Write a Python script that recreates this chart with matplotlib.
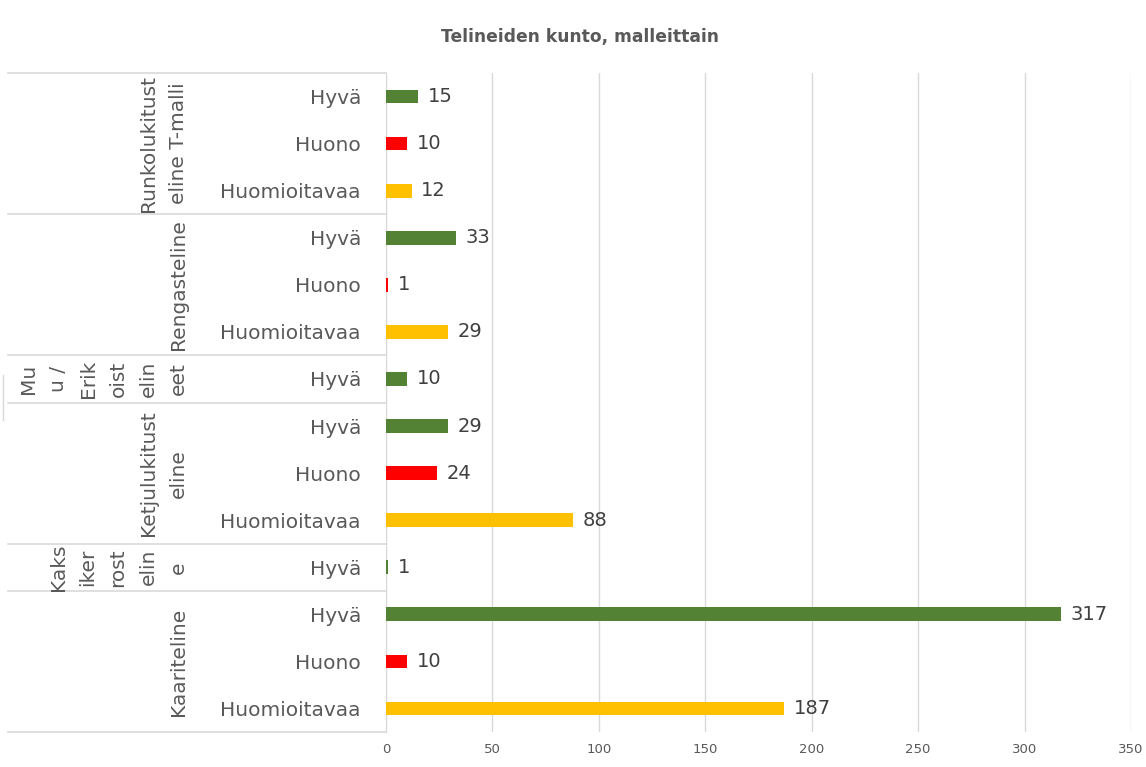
import matplotlib.pyplot as plt
from matplotlib.lines import Line2D
from matplotlib.transforms import blended_transform_factory

# data, top to bottom
groups = ["Runkolukitusteline T-malli", "Rengasteline", "Muu / Erikoistelineet",
          "Ketjulukitusteline", "Kaksikerrosteline", "Kaariteline"]
# how the group names are wrapped in the reference (one entry per column)
group_lines = [["Runkolukitust", "eline T-malli"],
               ["Rengasteline"],
               ["Mu", "u /", "Erik", "oist", "elin", "eet"],
               ["Ketjulukitust", "eline"],
               ["Kaks", "iker", "rost", "elin", "e"],
               ["Kaariteline"]]
conditions = [["Hyvä", "Huono", "Huomioitavaa"],
              ["Hyvä", "Huono", "Huomioitavaa"],
              ["Hyvä"],
              ["Hyvä", "Huono", "Huomioitavaa"],
              ["Hyvä"],
              ["Hyvä", "Huono", "Huomioitavaa"]]
counts = [[15, 10, 12],
          [33, 1, 29],
          [10],
          [29, 24, 88],
          [1],
          [317, 10, 187]]

colors = {"Hyvä": "#548235", "Huono": "#FF0000", "Huomioitavaa": "#FFC000"}
txt = "#595959"
grid = "#D9D9D9"

W, H = 1146, 767
fig = plt.figure(figsize=(W / 100, H / 100), dpi=100)
left, right, top, bottom = 386, 1131, 73, 732
ax = fig.add_axes([left / W, (H - bottom) / H, (right - left) / W, (bottom - top) / H])

labels, vals, cols = [], [], []
for conds, cnts in zip(conditions, counts):
    for c, v in zip(conds, cnts):
        labels.append(c)
        vals.append(v)
        cols.append(colors[c])
pos = list(range(len(vals)))

ax.barh(pos, vals, height=0.29, color=cols, zorder=3)
for p, v in zip(pos, vals):
    ax.annotate(str(v), (v, p), xytext=(7, 0), textcoords="offset points",
                va="center", ha="left", fontsize=14, color="#404040")

ax.set_xlim(0, 350)
ax.set_ylim(len(vals) - 0.5, -0.5)
ax.set_xticks(range(0, 351, 50))
ax.set_yticks(pos)
ax.set_yticklabels(labels)
ax.tick_params(axis="y", length=0, pad=18, labelsize=14.5, labelcolor=txt)
ax.tick_params(axis="x", length=0, pad=8, labelsize=9.5, labelcolor=txt)
ax.xaxis.grid(True, color=grid, lw=1)
ax.set_axisbelow(True)
for s in ["top", "right", "bottom"]:
    ax.spines[s].set_visible(False)
ax.spines["left"].set_color(grid)

# group separators and rotated group names in the left table
tr = blended_transform_factory(fig.transFigure, ax.transData)
start = 0
bounds = [-0.5]
for lines, conds in zip(group_lines, conditions):
    n = len(conds)
    center = start + (n - 1) / 2
    ncol = len(lines)
    for k, line in enumerate(lines):
        x = (178 - 30 * (ncol - 1 - k)) / W
        ax.text(x, center, line, transform=tr, rotation=90, ha="center", va="center",
                fontsize=14.5, color=txt, rotation_mode="anchor")
    start += n
    bounds.append(start - 0.5)
for b in bounds:
    ax.add_line(Line2D([8 / W, left / W], [b, b], transform=tr, color=grid, lw=1.2,
                       clip_on=False))
fig.add_artist(Line2D([3 / W, 3 / W], [(H - 420) / H, (H - 375) / H], color=grid, lw=1))

fig.suptitle("Telineiden kunto, malleittain", x=580 / W, y=1 - 37 / H, va="center",
             fontsize=12.3, fontweight="bold", color=txt)

fig.savefig("out.png", dpi=100, facecolor="white")
